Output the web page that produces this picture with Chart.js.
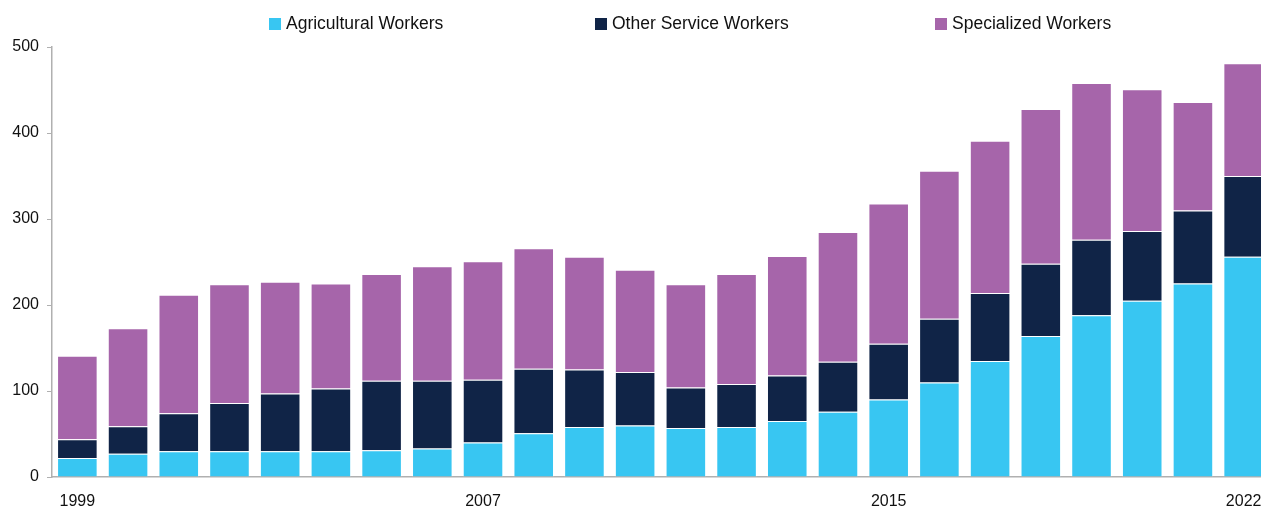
<!DOCTYPE html>
<html>
<head>
<meta charset="utf-8">
<script src="https://cdn.jsdelivr.net/npm/chart.js@4.4.1/dist/chart.umd.min.js"></script>
<style>
    html, body { margin: 0; padding: 0; background: #fff; overflow: hidden; }
    #wrap { position: relative; width: 1261px; height: 508px; overflow: hidden; }
    #leyenda { position: absolute; top: 11px; left: 0; width: 1261px; height: 24px;
        font-family: "Liberation Sans", Arial, sans-serif; font-size: 17.5px; color: #111; }
    .item { position: absolute; top: 0; white-space: nowrap; line-height: 24px; }
    .caja { display: inline-block; width: 12px; height: 12px; margin-right: 5px; vertical-align: -1px; }
    canvas { display: block; }
</style>
</head>
<body>
<div id="wrap">
    <div id="leyenda"></div>
    <!-- el lienzo es algo más ancho: en la original la última barra queda cortada por el borde -->
    <canvas id="grafico" width="1269" height="508"></canvas>
</div>
<script>
const anios = ['1999','2000','2001','2002','2003','2004','2005','2006','2007','2008','2009','2010',
    '2011','2012','2013','2014','2015','2016','2017','2018','2019','2020','2021','2022'];
const etiquetasX = ['1999', '2007', '2015', '2022'];

const agricolas = [22, 27, 30, 30, 30, 30, 31, 33, 40, 51, 58, 60,
    57, 58, 65, 76, 90, 110, 135, 164, 188, 205, 225, 256];
const otrosServicios = [22, 32, 44, 56, 67, 73, 81, 79, 73, 75, 67, 62,
    47, 50, 53, 58, 65, 74, 79, 84, 88, 81, 85, 94];
const especializados = [97, 114, 138, 138, 130, 122, 124, 133, 138, 140, 131, 119,
    120, 128, 139, 151, 163, 172, 177, 180, 182, 165, 126, 131];

const series = [
    { nombre: 'Agricultural Workers', datos: agricolas, color: '#38C6F2' },
    { nombre: 'Other Service Workers', datos: otrosServicios, color: '#102447' },
    { nombre: 'Specialized Workers', datos: especializados, color: '#A665AA' }
];

const FUENTE = '"Liberation Sans", Arial, sans-serif';

// leyenda en HTML (las posiciones de la original son muy separadas)
const leyenda = document.getElementById('leyenda');
const posLeyenda = [269, 595, 935];
series.forEach((s, i) => {
    const div = document.createElement('div');
    div.className = 'item';
    div.style.left = posLeyenda[i] + 'px';
    div.innerHTML = `<span class="caja" style="background:${s.color}"></span>${s.nombre}`;
    leyenda.appendChild(div);
});

new Chart(document.getElementById('grafico'), {
    type: 'bar',
    data: {
        labels: anios,
        datasets: series.map(s => ({
            label: s.nombre,
            data: s.datos,
            backgroundColor: s.color,
            borderColor: 'rgba(255,255,255,0.45)',
            borderWidth: 1,
            barPercentage: 1,
            categoryPercentage: 0.8
        }))
    },
    options: {
        responsive: false,
        animation: false,
        layout: { padding: { top: 47, right: 0, left: 0, bottom: 0 } },
        plugins: {
            legend: { display: false },
            tooltip: { enabled: false }
        },
        scales: {
            x: {
                stacked: true,
                grid: { display: false },
                border: { display: true, color: '#b0b0b0', width: 1.5 },
                ticks: {
                    autoSkip: false,
                    maxRotation: 0,
                    padding: 7,
                    color: '#111',
                    font: { family: FUENTE, size: 16 },
                    callback: function(value) {
                        const lab = anios[value];
                        return etiquetasX.includes(lab) ? lab : '';
                    }
                },
                afterFit: function(scale) { scale.height = 31; }
            },
            y: {
                stacked: true,
                min: 0,
                max: 500,
                grid: { drawOnChartArea: false, drawTicks: true, tickLength: 5, color: '#b0b0b0' },
                border: { display: true, color: '#b0b0b0', width: 1.5 },
                ticks: {
                    stepSize: 100,
                    padding: 8,
                    color: '#111',
                    font: { family: FUENTE, size: 16 }
                },
                afterFit: function(scale) { scale.width = 52; }
            }
        }
    }
});
</script>
</body>
</html>
